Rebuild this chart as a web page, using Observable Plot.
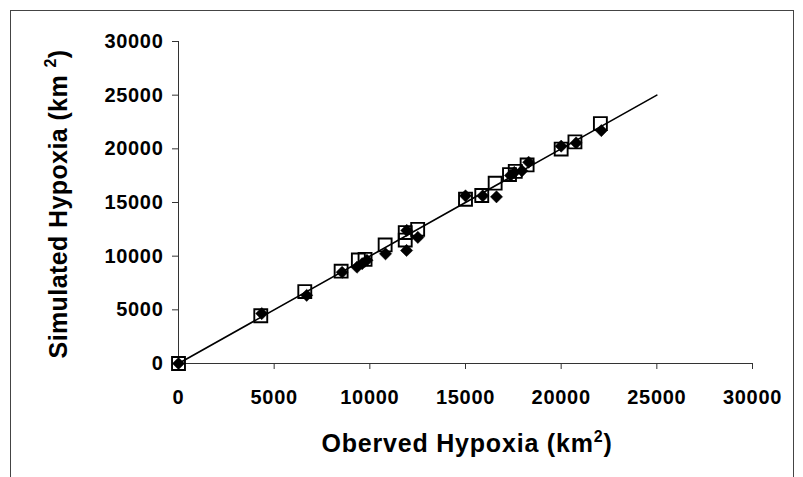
<!DOCTYPE html>
<html>
<head>
<meta charset="utf-8">
<script src="https://cdn.jsdelivr.net/npm/d3@7"></script>
<script src="https://cdn.jsdelivr.net/npm/@observablehq/plot@0.6"></script>
<style>
  html, body { margin: 0; padding: 0; overflow: hidden; background: #fff; width: 803px; height: 477px; }
  #wrap { position: relative; width: 803px; height: 477px; }
  #frame { position: absolute; left: 10px; top: 10px; width: 782px; height: 490px; border: 1px solid #444; border-bottom: none; pointer-events: none; }
  svg text { letter-spacing: 0.7px; }
</style>
</head>
<body>
<div id="wrap"><div id="frame"></div></div>
<script>
// Axis ticks
const xTicks = [0, 5000, 10000, 15000, 20000, 25000, 30000];
const yTicks = [0, 5000, 10000, 15000, 20000, 25000, 30000];

// Series 1: open squares (observed vs simulated)
const obsSquare = [0, 4300, 6600, 8500, 9400, 9750, 10800, 11850, 11850, 12500, 15000, 15850, 16550, 17300, 17600, 18220, 20000, 20720, 22050];
const simSquare = [0, 4450, 6700, 8600, 9650, 9700, 11050, 12200, 11500, 12500, 15300, 15650, 16800, 17600, 17900, 18500, 19980, 20650, 22350];

// Series 2: filled diamonds
const obsDiamond = [0, 4350, 6700, 8550, 9330, 9600, 9850, 10820, 11930, 11920, 12510, 15000, 15900, 16620, 17350, 17550, 17950, 18300, 20000, 20780, 22100];
const simDiamond = [0, 4650, 6350, 8500, 8970, 9300, 9620, 10220, 12400, 10530, 11750, 15620, 15620, 15530, 17520, 17800, 17950, 18750, 20250, 20550, 21700];

// 1:1 line
const lineX = [0, 25000];
const lineY = [0, 25000];

const squares = obsSquare.map((x, i) => ({x, y: simSquare[i]}));
const diamonds = obsDiamond.map((x, i) => ({x, y: simDiamond[i]}));
const line = lineX.map((x, i) => ({x, y: lineY[i]}));

const fmt = d => String(d);

const plot = Plot.plot({
  width: 803,
  height: 477,
  marginLeft: 178,
  marginRight: 51,
  marginTop: 41,
  marginBottom: 114,
  style: { fontFamily: "'Liberation Sans', Arial, sans-serif", fontSize: "20px", fontWeight: "bold", color: "#000", background: "transparent" },
  x: { domain: [0, 30000] },
  y: { domain: [0, 30000] },
  marks: [
    Plot.ruleX([0], { stroke: "#333", strokeWidth: 1 }),
    Plot.ruleY([0], { stroke: "#333", strokeWidth: 1 }),
    Plot.axisX({ ticks: xTicks, tickSize: 6, tickPadding: 20, tickFormat: fmt, label: null, stroke: "#333", fontSize: 20 }),
    Plot.axisY({ ticks: yTicks, tickSize: 6, tickPadding: 9, tickFormat: fmt, label: null, stroke: "#333", fontSize: 20 }),
    Plot.line(line, { x: "x", y: "y", stroke: "#000", strokeWidth: 1.6 }),
    Plot.dot(squares, { x: "x", y: "y", symbol: "square", r: 7.3, stroke: "#000", strokeWidth: 1.9, fill: "none" }),
    Plot.dot(diamonds, { x: "x", y: "y", symbol: "diamond2", r: 5.5, fill: "#000", stroke: "#000", strokeWidth: 0.5 })
  ]
});

document.getElementById("wrap").prepend(plot);

const svg = d3.select(plot);
const xs = plot.scale("x"), ys = plot.scale("y");
const cx = (xs.range[0] + xs.range[1]) / 2;
const cy = (ys.range[0] + ys.range[1]) / 2;

// X title
const xt = svg.append("text")
  .attr("x", cx + 2).attr("y", 452)
  .attr("text-anchor", "middle")
  .style("font-family", "'Liberation Sans', Arial, sans-serif")
  .style("font-weight", "bold").style("font-size", "25px")
  .style("letter-spacing", "0.8px").attr("fill", "#000");
xt.append("tspan").text("Oberved Hypoxia (km");
xt.append("tspan").attr("dy", -10).style("font-size", "16px").text("2");
xt.append("tspan").attr("dy", 10).text(")");

// Y title
const yt = svg.append("text")
  .attr("transform", `translate(67,${cy + 2}) rotate(-90)`)
  .attr("text-anchor", "middle")
  .style("font-family", "'Liberation Sans', Arial, sans-serif")
  .style("font-weight", "bold").style("font-size", "25px")
  .style("letter-spacing", "0.4px").attr("fill", "#000");
yt.append("tspan").text("Simulated Hypoxia (km ");
yt.append("tspan").attr("dy", -11).style("font-size", "16px").text("2");
yt.append("tspan").attr("dy", 11).text(")");
</script>
</body>
</html>
